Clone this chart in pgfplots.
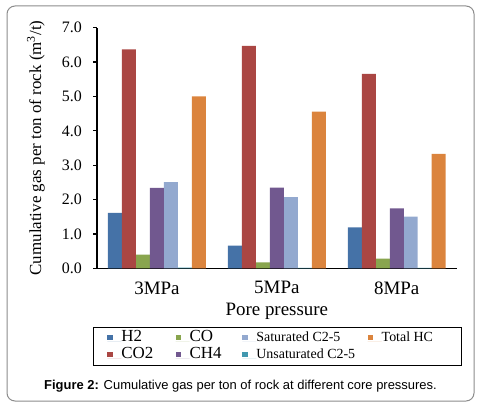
\documentclass[border=0pt]{standalone}
\usepackage{fontspec}
\setmainfont{Liberation Serif}
\newfontfamily\arial{Liberation Sans}
\usepackage{pgfplots}
\pgfplotsset{compat=1.18}
\definecolor{cH2}{HTML}{4572A7}
\definecolor{cCO2}{HTML}{AA4643}
\definecolor{cCO}{HTML}{89A54E}
\definecolor{cCH4}{HTML}{71588F}
\definecolor{cSat}{HTML}{93A9CF}
\definecolor{cUns}{HTML}{4198AF}
\definecolor{cTot}{HTML}{DB843D}
\newcommand{\lgbig}[2]{\fontsize{17}{17}\selectfont\makebox[#1][l]{#2}}
\newcommand{\lgsml}[2]{\fontsize{14}{14}\selectfont\makebox[#1][l]{#2}}
\begin{document}
\begin{tikzpicture}[x=1bp,y=1bp]
\useasboundingbox (0,0) rectangle (480,406);
\draw[rounded corners=8bp, draw=black!45, line width=1bp] (7,5) rectangle (474,400);
\begin{axis}[
  at={(97bp,137.7bp)}, anchor=south west,
  scale only axis, width=359.7bp, height=240.6bp,
  xmin=-0.5, xmax=2.5, ymin=0, ymax=7,
  axis lines*=left,
  axis line style={line width=1.6bp, black},
  ybar=0pt, bar width=0.11667,
  tick align=outside, major tick length=4bp,
  xtick={0,1,2}, xticklabels={3MPa,5MPa,8MPa},
  x tick style={draw=none},
  extra x ticks={-0.5,0.5,1.5,2.5}, extra x tick labels={},
  extra x tick style={tick style={draw=black, line width=1.2bp}},
  ytick={0,1,...,7},
  y tick style={draw=black, line width=1.2bp},
  xticklabel style={font=\fontsize{19}{19}\selectfont, anchor=north, inner sep=0pt, yshift=-9bp},
  yticklabel style={font=\fontsize{16}{16}\selectfont, anchor=east, inner sep=0pt, xshift=-11bp,
    /pgf/number format/fixed, /pgf/number format/fixed zerofill,
    /pgf/number format/precision=1, /pgf/number format/assume math mode=true},
  xlabel={Pore pressure},
  xlabel style={font=\fontsize{19}{19}\selectfont, at={(axis description cs:0.5,0)}, anchor=north, inner sep=0pt, yshift=-35bp},
  ylabel={Cumulative gas per ton of rock (m\textsuperscript{3}/t)},
  ylabel style={font=\fontsize{17}{17}\selectfont, at={(axis description cs:-0.17,0.5)}, anchor=center, inner sep=0pt},
  legend columns=4,
  legend image code/.code={\fill[#1, draw=none] (0bp,1.5bp) rectangle (5.5bp,7bp); \path (0bp,0bp) -- (14bp,0bp);},
  legend style={at={(axis description cs:-0.011,-0.244)}, anchor=north west,
    draw=black, line width=1.3bp, inner xsep=13.7bp, inner ysep=3bp,
    column sep=0pt, row sep=2bp,
    nodes={inner sep=0pt, text height=11bp, text depth=4bp, anchor=base}},
  legend cell align=left,
]
\addplot[fill=cH2, draw=none, bar shift=-0.35] coordinates {(0,1.61) (1,0.66) (2,1.19)};
\addlegendentry{\lgbig{54.3bp}{H2}}
\addplot[fill=cCO, draw=none, bar shift=-0.11667] coordinates {(0,0.40) (1,0.17) (2,0.28)};
\addlegendentry{\lgbig{52.7bp}{CO}}
\addplot[fill=cSat, draw=none, bar shift=0.11667] coordinates {(0,2.51) (1,2.07) (2,1.50)};
\addlegendentry{\lgsml{111.3bp}{Saturated C2-5}}
\addplot[fill=cTot, draw=none, bar shift=0.35] coordinates {(0,5.00) (1,4.56) (2,3.33)};
\addlegendentry{\lgsml{66bp}{Total HC}}
\addplot[fill=cCO2, draw=none, bar shift=-0.23333] coordinates {(0,6.37) (1,6.47) (2,5.66)};
\addlegendentry{\lgbig{54.3bp}{CO2}}
\addplot[fill=cCH4, draw=none, bar shift=0] coordinates {(0,2.34) (1,2.35) (2,1.74)};
\addlegendentry{\lgbig{52.7bp}{CH4}}
\addplot[fill=cUns, draw=none, bar shift=0.23333] coordinates {(0,0.02) (1,0.01) (2,0.01)};
\addlegendentry{\lgsml{111.3bp}{Unsaturated C2-5}}
\end{axis}
\node[anchor=base, inner sep=0pt, font=\arial\fontsize{13}{13}\selectfont] at (240.5,16.7) {\textbf{Figure 2:} Cumulative gas per ton of rock at different core pressures.};
\end{tikzpicture}
\end{document}
